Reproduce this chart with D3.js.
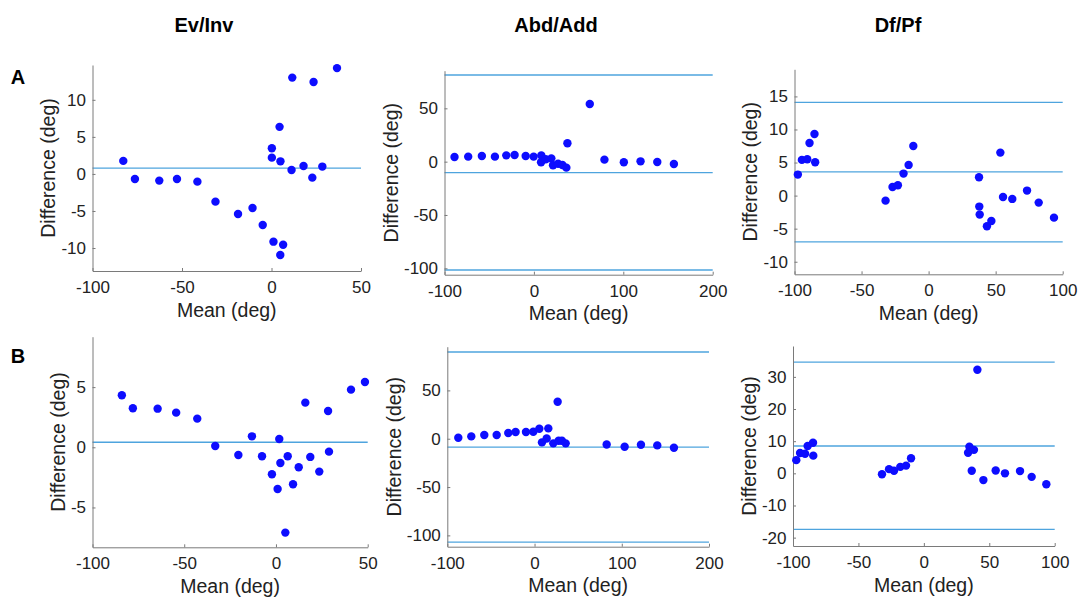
<!DOCTYPE html>
<html>
<head>
<meta charset="utf-8">
<script src="https://cdn.jsdelivr.net/npm/d3@7"></script>
<style>
  html, body { margin: 0; padding: 0; background: #fff; }
  svg { display: block; font-family: "Liberation Sans", Helvetica, Arial, sans-serif; }
</style>
</head>
<body>
<svg id="chart" width="1080" height="599"></svg>
<script>
// ---------- Data ----------
const columnTitles = ["Ev/Inv", "Abd/Add", "Df/Pf"];
const rowLetters = ["A", "B"];
const xLabel = "Mean (deg)";
const yLabel = "Difference (deg)";

// Row A – Ev/Inv
const evInvA_mean = [-82.8, -76.3, -62.7, -52.8, -41.4, -31.3, -18.7, -10.6, -4.9, 0.2, 0.2, 1.1, 4.5, 5.0, 4.9, 6.5, 11.6, 11.2, 17.9, 22.8, 23.5, 28.4, 36.6];
const evInvA_diff = [1.76, -0.68, -0.9, -0.68, -1.04, -3.74, -5.4, -4.6, -6.9, 3.47, 2.2, -9.14, 6.35, 1.7, -10.95, -9.55, 13.0, 0.54, 1.08, -0.5, 12.4, 0.99, 14.28];
const evInvA_lines = [0.77];

// Row A – Abd/Add
const abdAddA_mean = [-88.8, -73.5, -58.2, -43.6, -30.9, -21.6, -9.2, -0.3, 8.3, 8.0, 13.2, 19.5, 21.4, 27.0, 31.9, 36.3, 37.5, 62.5, 78.9, 100.6, 119.3, 138.0, 156.6];
const abdAddA_diff = [4.4, 4.7, 5.3, 4.7, 5.9, 6.25, 5.3, 4.7, 5.9, -0.6, 2.2, 3.1, -3.4, -1.9, -3.1, -5.6, 17.2, 54.1, 1.9, -0.6, 0.3, -0.3, -2.2];
const abdAddA_lines = [81.25, -10.3, -101.6];

// Row A – Df/Pf
const dfPfA_mean = [-97.5, -94.5, -90.5, -88.8, -85.1, -84.6, -32.1, -26.9, -22.9, -18.7, -14.9, -11.4, 37.6, 37.8, 38.1, 43.5, 46.8, 53.5, 55.5, 62.4, 73.4, 82.1, 93.5];
const dfPfA_diff = [3.18, 5.4, 5.5, 7.96, 9.32, 5.04, -0.76, 1.31, 1.56, 3.33, 4.64, 7.51, 2.77, -1.66, -2.87, -4.64, -3.83, 6.5, -0.2, -0.5, 0.76, -1.06, -3.33];
const dfPfA_lines = [14.1, 3.58, -7.0];

// Row B – Ev/Inv
const evInvB_mean = [-84.0, -78.0, -64.5, -54.4, -42.9, -33.1, -20.5, -13.1, -7.6, -2.2, 0.9, 1.8, 2.4, 5.1, 6.4, 9.3, 12.4, 16.0, 18.7, 23.6, 28.4, 28.9, 40.9, 48.5];
const evInvB_diff = [4.32, 3.24, 3.21, 2.88, 2.38, 0.11, -0.64, 0.91, -0.75, -2.24, -3.46, 0.69, -1.30, -7.09, -0.75, -3.07, -1.66, 3.71, -0.80, -2.02, 3.02, -0.36, 4.79, 5.43];
const evInvB_lines = [0.42];

// Row B – Abd/Add
const abdAddB_mean = [-87.4, -72.5, -57.6, -43.4, -30.1, -21.7, -9.8, -1.4, 5.5, 15.8, 8.5, 13.9, 21.5, 26.5, 27.6, 31.4, 35.7, 82.7, 103.3, 122.0, 140.7, 159.8];
const abdAddB_diff = [1.0, 2.4, 3.8, 3.8, 5.9, 6.9, 6.9, 7.2, 10.3, 10.7, -3.8, 0.3, -4.8, 38.3, -2.1, -2.1, -4.8, -5.9, -8.3, -6.2, -6.9, -9.3];
const abdAddB_lines = [89.7, -8.6, -106.9];

// Row B – Df/Pf
const dfPfB_mean = [-97.5, -94.6, -90.8, -88.8, -84.7, -84.5, -32.0, -26.6, -22.8, -18.0, -13.6, -9.8, 33.8, 34.8, 38.3, 36.6, 40.9, 45.5, 54.9, 62.0, 73.5, 82.4, 93.6];
const dfPfB_diff = [4.1, 6.3, 6.1, 8.5, 9.5, 5.5, -0.3, 1.3, 0.8, 2.0, 2.4, 4.7, 6.4, 8.3, 7.3, 0.8, 32.2, -2.1, 0.9, 0.0, 0.7, -1.1, -3.4];
const dfPfB_lines = [34.6, 8.5, -17.4];

// Tick values
const xTicksEv = [-100, -50, 0, 50];
const xTicksAbd = [-100, 0, 100, 200];
const xTicksDf = [-100, -50, 0, 50, 100];
const yTicksEvA = [-10, -5, 0, 5, 10];
const yTicksAbd = [-100, -50, 0, 50];
const yTicksDfA = [-10, -5, 0, 5, 10, 15];
const yTicksEvB = [-5, 0, 5];
const yTicksDfB = [-20, -10, 0, 10, 20, 30];

// ---------- Layout ----------
const panels = [
  {mean: evInvA_mean, diff: evInvA_diff, lines: evInvA_lines, box: [92.5, 361, 65, 271],    xd: [-100, 50],  yd: [-13.1, 14.7], xt: xTicksEv,  yt: yTicksEvA},
  {mean: abdAddA_mean, diff: abdAddA_diff, lines: abdAddA_lines, box: [444.5, 712.7, 70.7, 274.7], xd: [-100, 200], yd: [-106, 85.3], xt: xTicksAbd, yt: yTicksAbd},
  {mean: dfPfA_mean, diff: dfPfA_diff, lines: dfPfA_lines, box: [794.5, 1062.7, 69.3, 274.3], xd: [-100, 100], yd: [-11.9, 19.1], xt: xTicksDf, yt: yTicksDfA},
  {mean: evInvB_mean, diff: evInvB_diff, lines: evInvB_lines, box: [92.5, 367.7, 336.7, 547.3], xd: [-100, 50],  yd: [-8.31, 9.19], xt: xTicksEv,  yt: yTicksEvB},
  {mean: abdAddB_mean, diff: abdAddB_diff, lines: abdAddB_lines, box: [447.3, 709, 346.7, 546.7], xd: [-100, 200], yd: [-111.7, 95.2], xt: xTicksAbd, yt: yTicksAbd},
  {mean: dfPfB_mean, diff: dfPfB_diff, lines: dfPfB_lines, box: [793, 1054.7, 346, 546],    xd: [-100, 100], yd: [-22.6, 39.6], xt: xTicksDf, yt: yTicksDfB}
];

const svg = d3.select("#chart");
const tickFont = 17, labelFont = 19.5;
const axisColor = "#7a7a7a", textColor = "#222";
const lineColor = "#4ea4de", dotColor = "#0d0dff";
const fmt = d => String(d);

panels.forEach(p => {
  const [x0, x1, y0, y1] = p.box;
  const x = d3.scaleLinear().domain(p.xd).range([x0, x1]);
  const y = d3.scaleLinear().domain(p.yd).range([y1, y0]);
  const g = svg.append("g");

  // reference lines
  g.selectAll("line.ref").data(p.lines).join("line")
    .attr("class", "ref")
    .attr("x1", x(p.xd[0])).attr("x2", x(p.xd[1]))
    .attr("y1", d => y(d)).attr("y2", d => y(d))
    .attr("stroke", lineColor).attr("stroke-width", 1.3);

  // axes
  const xa = g.append("g").attr("transform", `translate(0,${y1})`)
    .call(d3.axisBottom(x).tickValues(p.xt).tickSizeInner(-3).tickSizeOuter(0).tickPadding(10).tickFormat(fmt));
  const ya = g.append("g").attr("transform", `translate(${x0},0)`)
    .call(d3.axisLeft(y).tickValues(p.yt).tickSizeInner(-3).tickSizeOuter(0).tickPadding(6.5).tickFormat(fmt));
  [xa, ya].forEach(a => {
    a.select(".domain").attr("stroke", axisColor).attr("stroke-width", 1);
    a.selectAll(".tick line").attr("stroke", axisColor);
    a.selectAll(".tick text").attr("fill", textColor).style("font-size", tickFont + "px")
      .style("font-family", "'Liberation Sans', Helvetica, Arial, sans-serif");
  });

  // points
  g.selectAll("circle").data(p.mean.map((m, i) => [m, p.diff[i]])).join("circle")
    .attr("cx", d => x(d[0])).attr("cy", d => y(d[1]))
    .attr("r", 4.2).attr("fill", dotColor);

  // x label
  g.append("text").attr("x", (x0 + x1) / 2).attr("y", y1 + 45.5)
    .attr("text-anchor", "middle").attr("fill", textColor)
    .style("font-size", labelFont + "px").text(xLabel);

  // y label, placed left of tick labels
  const bb = ya.node().getBBox();
  const lx = x0 + bb.x - 13;
  g.append("text").attr("transform", `translate(${lx},${(y0 + y1) / 2}) rotate(-90)`)
    .attr("dy", "0.35em")
    .attr("text-anchor", "middle").attr("fill", textColor)
    .style("font-size", labelFont + "px").text(yLabel);
});

// column titles
const titleX = [204, 556, 898];
columnTitles.forEach((t, i) => {
  svg.append("text").attr("x", titleX[i]).attr("y", 32)
    .attr("text-anchor", "middle").attr("fill", "#000")
    .style("font-size", "20px").style("font-weight", "bold").text(t);
});

// row letters
const letterY = [84, 363];
rowLetters.forEach((t, i) => {
  svg.append("text").attr("x", 18).attr("y", letterY[i])
    .attr("text-anchor", "middle").attr("fill", "#000")
    .style("font-size", "20px").style("font-weight", "bold").text(t);
});
</script>
</body>
</html>
